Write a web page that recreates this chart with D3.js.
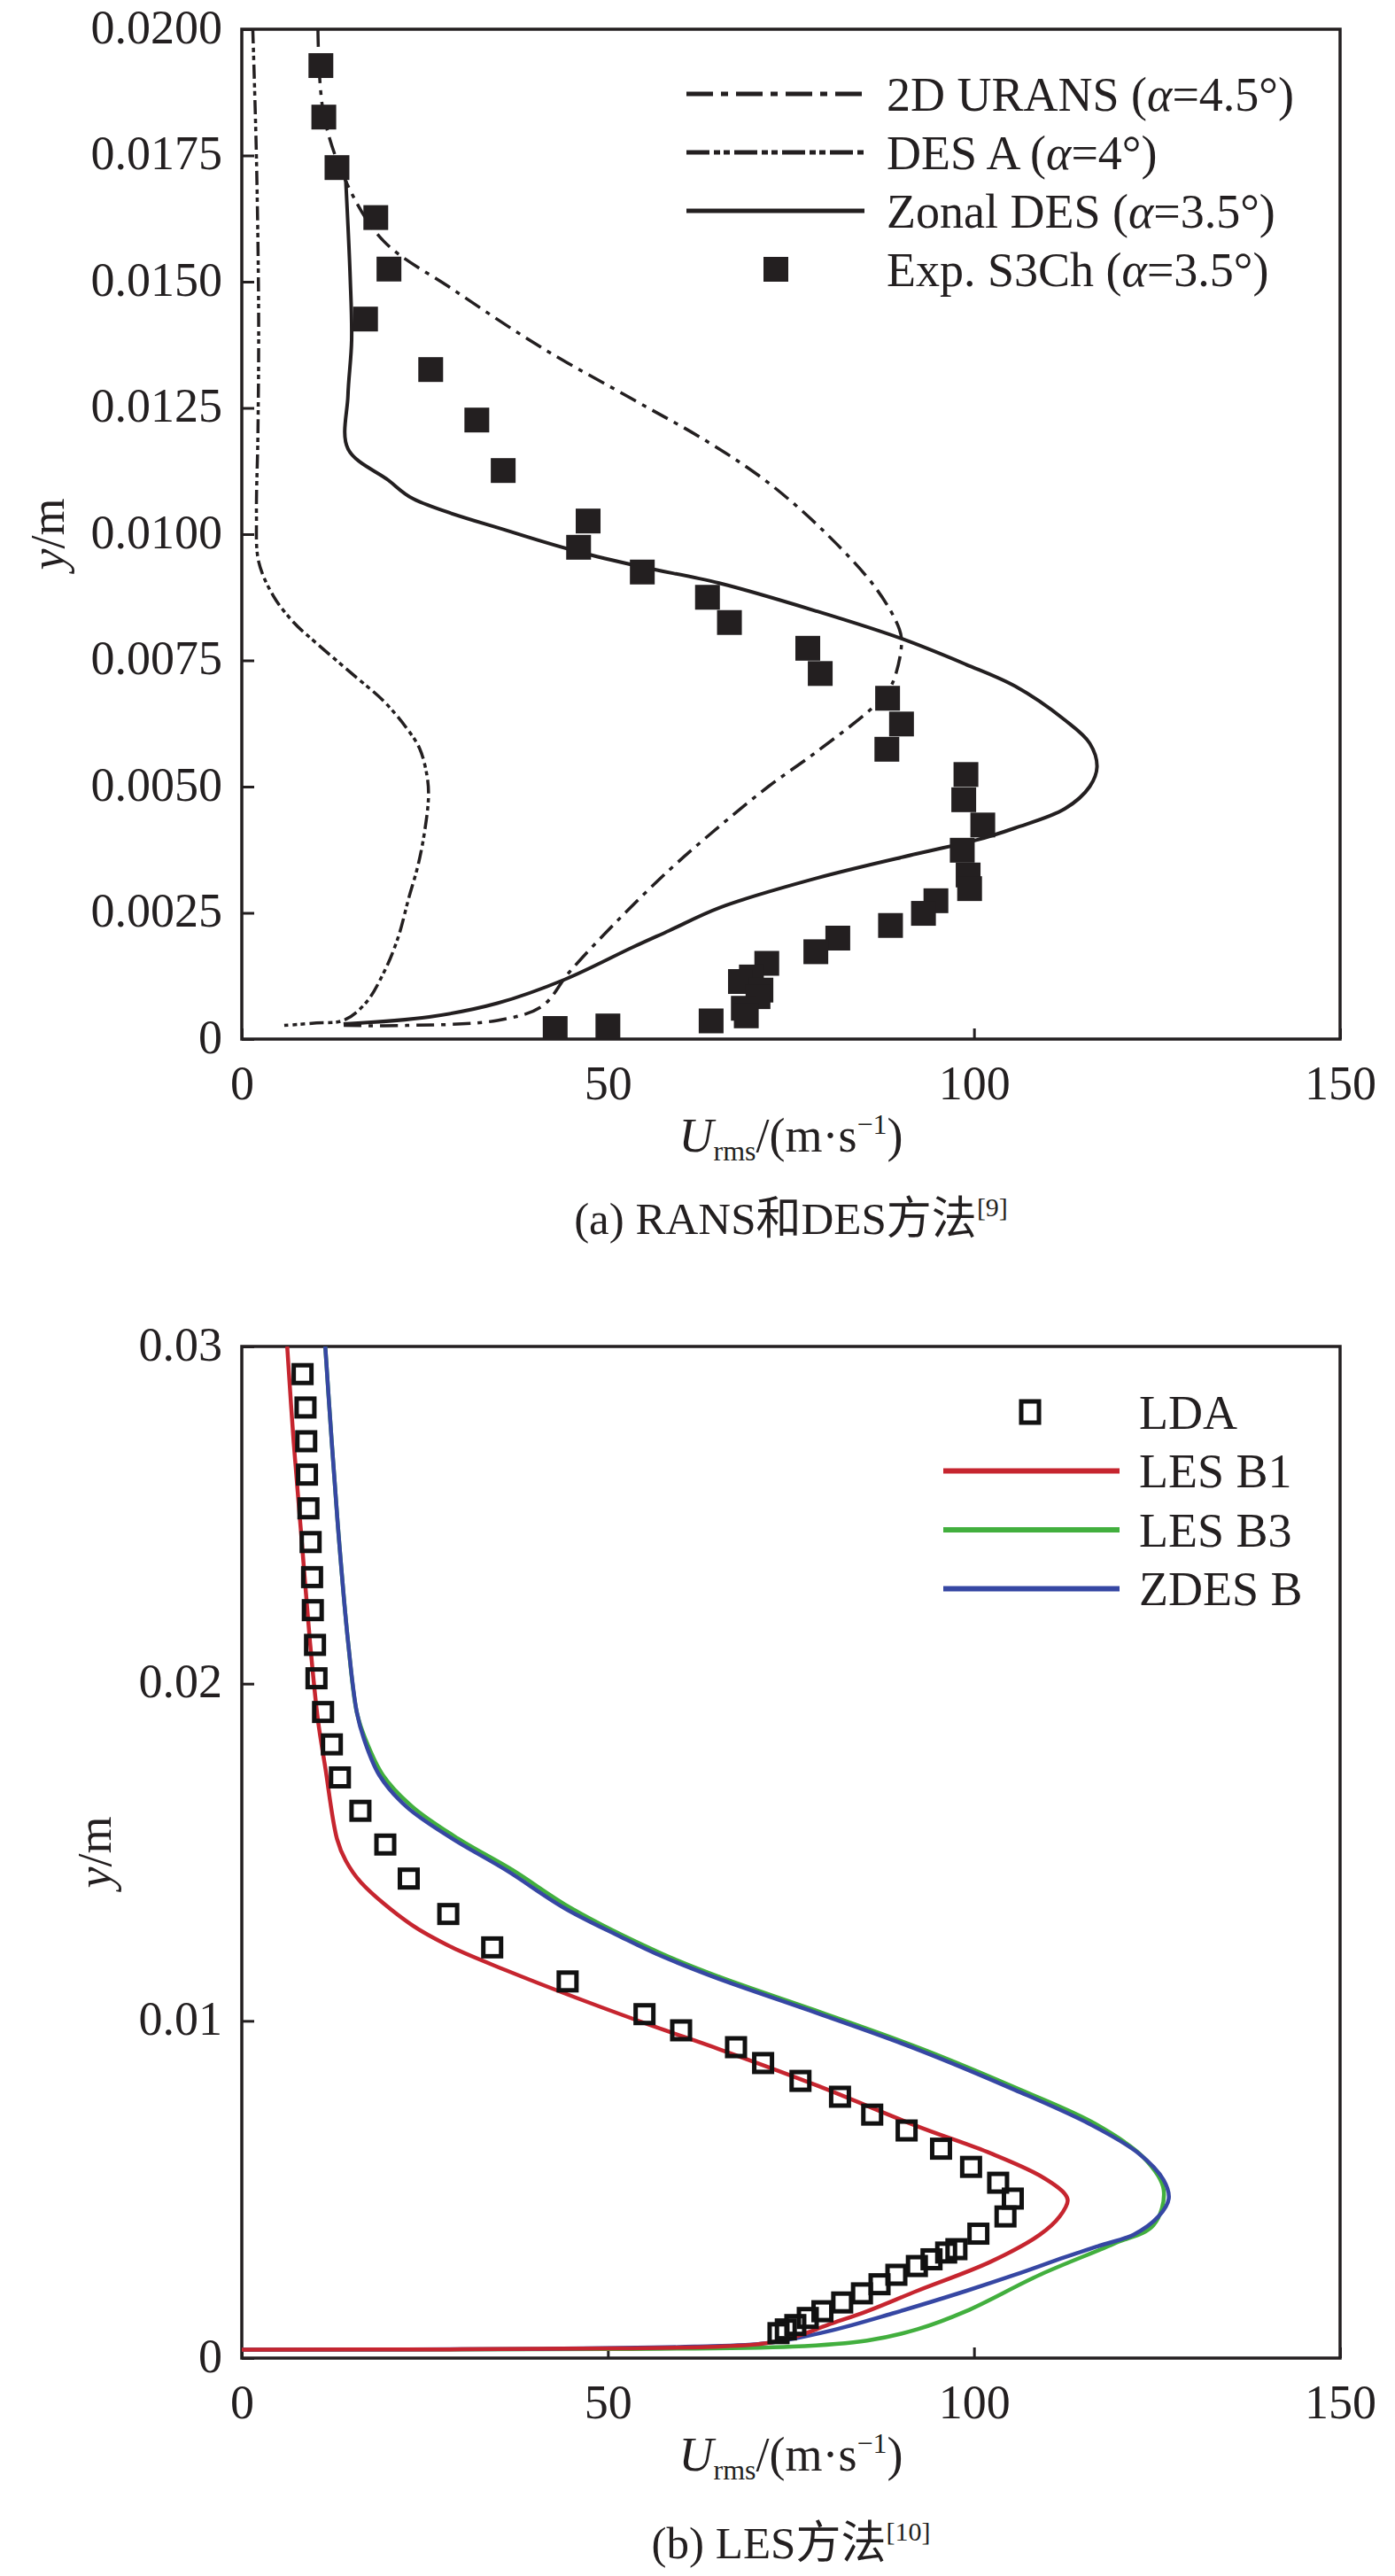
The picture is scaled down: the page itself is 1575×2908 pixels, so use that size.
<!DOCTYPE html>
<html>
<head>
<meta charset="utf-8">
<script src="https://cdn.jsdelivr.net/npm/d3@7"></script>
<style>
body { margin: 0; background: #fff; }
svg text { font-family: "Liberation Serif", "Times New Roman", "Noto Sans CJK SC", serif; fill: #231f20; }
</style>
</head>
<body>
<svg id="chart" width="1575" height="2908"></svg>
<script>
// ---- tick values / labels ----
var xTickVals = [0, 50, 100, 150];
var topYTicks = [0, 0.0025, 0.005, 0.0075, 0.01, 0.0125, 0.015, 0.0175, 0.02];
var topYLabels = ["0", "0.0025", "0.0050", "0.0075", "0.0100", "0.0125", "0.0150", "0.0175", "0.0200"];
var botYTicks = [0, 0.01, 0.02, 0.03];
var botYLabels = ["0", "0.01", "0.02", "0.03"];

// ---- (a) RANS / DES : [Urms, y] ----
var uransPts = [[10.4,0.0200],[11.2,0.0183],[14.5,0.0169],[19.4,0.0158],[28.7,0.01486],[41.0,0.01369],
  [53.4,0.01267],[63.4,0.01185],[71.9,0.01102],[79.9,0.0100],[86.7,0.00891],[89.8,0.00812],[90.1,0.00781],
  [88.8,0.00703],[86.7,0.00664],[78.6,0.0057],[71.9,0.0050],[65.2,0.00421],[58.4,0.00335],[51.0,0.0023],
  [44.7,0.00132],[41.0,0.00065],[34.9,0.00037],[22.5,0.00027],[13.9,0.00027]];
var desAPts = [[1.5,0.0200],[2.0,0.01745],[2.3,0.01432],[2.2,0.01196],[2.0,0.0104],[2.3,0.00946],[4.3,0.00878],
  [7.1,0.00825],[10.2,0.00784],[15.1,0.00723],[19.4,0.00669],[22.5,0.00616],[24.3,0.00575],[25.3,0.00521],
  [25.5,0.00481],[25.0,0.00414],[24.1,0.00346],[22.8,0.00279],[21.3,0.00199],[19.4,0.00132],[16.9,0.00071],
  [13.9,0.00037],[10.2,0.00032],[5.8,0.00027]];
var zonalPts = [[14.2,0.0170],[14.8,0.0151],[15.0,0.01384],[14.5,0.01275],[14.5,0.01169],[20.0,0.01107],
  [23.4,0.0107],[36.7,0.01005],[46.0,0.00965],[54.7,0.00935],[65.2,0.00903],[78.6,0.00847],[90.1,0.00793],
  [98.9,0.00742],[105.6,0.00699],[112.4,0.00632],[115.8,0.00586],[116.8,0.00539],[115.8,0.0050],[112.4,0.00456],
  [105.6,0.00418],[100.3,0.00394],[92.2,0.00367],[78.6,0.00319],[65.2,0.0026],[58.4,0.00215],[53.4,0.00182],
  [44.1,0.00118],[34.9,0.00071],[25.6,0.00044],[13.9,0.0003]];
var expS3Ch = [[10.8,0.01928],[11.2,0.01826],[13.0,0.01726],[18.3,0.01627],[20.1,0.01525],[16.9,0.01426],
  [25.8,0.01326],[32.1,0.01226],[35.7,0.01126],[47.3,0.01026],[46.0,0.00974],[54.7,0.00925],[63.6,0.00875],
  [66.6,0.00825],[77.3,0.00774],[79.0,0.00724],[88.2,0.00675],[90.1,0.00624],[88.1,0.00574],[98.9,0.00524],
  [98.6,0.00474],[101.2,0.00424],[98.4,0.00374],[99.2,0.00325],[99.4,0.00298],[94.8,0.00274],[93.1,0.00249],
  [88.6,0.00225],[81.4,0.0020],[78.4,0.00173],[71.7,0.0015],[69.6,0.00123],[68.1,0.00114],[70.9,0.00097],
  [70.5,0.00084],[68.5,0.00061],[68.9,0.00046],[64.1,0.00036],[42.8,0.00021],[50.0,0.00026]];

// ---- (b) LES : [Urms, y] ----
var ldaPts = [[8.3,0.02918],[8.7,0.02819],[8.8,0.02719],[8.9,0.0262],[9.1,0.0252],[9.4,0.0242],[9.6,0.02316],
  [9.7,0.02218],[10.0,0.02115],[10.2,0.02016],[11.1,0.01916],[12.3,0.0182],[13.4,0.01722],[16.2,0.01623],
  [19.6,0.01523],[22.8,0.01422],[28.2,0.01317],[34.2,0.01218],[44.5,0.01117],[55.0,0.0102],[60.0,0.00972],
  [67.5,0.00922],[71.2,0.00875],[76.3,0.00822],[81.7,0.00775],[86.1,0.00722],[90.8,0.00675],[95.5,0.00621],
  [99.6,0.00567],[103.3,0.0052],[105.3,0.00473],[104.3,0.0042],[100.6,0.00369],[97.6,0.00323],[96.2,0.00313],
  [94.2,0.00293],[92.2,0.00273],[89.4,0.00247],[87.1,0.00219],[84.7,0.00192],[82.0,0.00165],[79.3,0.00139],
  [77.3,0.00119],[75.6,0.00098],[74.3,0.00085],[73.3,0.00074]];
var lesB1Pts = [[6.2,0.0300],[7.1,0.02712],[8.2,0.0242],[9.3,0.02127],[10.4,0.01892],[11.4,0.01752],[13.0,0.0154],
  [14.2,0.01475],[16.3,0.0141],[23.1,0.01286],[28.7,0.01218],[36.1,0.0115],[47.2,0.01056],[56.5,0.00982],
  [65.2,0.00916],[78.6,0.00808],[92.2,0.00688],[102.3,0.00607],[109.0,0.00541],[112.4,0.00487],[112.8,0.00467],
  [111.7,0.0042],[109.0,0.00366],[102.3,0.00286],[92.2,0.00199],[85.4,0.00139],[80.0,0.00098],[76.0,0.00066],
  [71.9,0.00045],[65.2,0.00034],[51.7,0.00029],[30.0,0.00026],[0,0.00025]];
var lesB3Pts = [[11.4,0.0300],[12.3,0.02712],[13.3,0.0242],[14.5,0.02127],[15.7,0.01916],[16.9,0.01835],
  [19.3,0.01728],[23.3,0.01635],[29.5,0.01541],[37.0,0.01447],[45.0,0.01334],[57.3,0.0120],[65.3,0.0113],
  [79.4,0.01023],[93.0,0.00916],[106.4,0.00795],[116.6,0.00694],[123.2,0.00594],[125.9,0.0050],[124.5,0.00394],
  [119.1,0.00339],[109.0,0.00247],[98.9,0.00139],[92.2,0.00085],[85.4,0.00052],[75.2,0.00034],[50.0,0.00027],
  [0,0.00025]];
var zdesBPts = [[11.4,0.0300],[12.3,0.02712],[13.3,0.0242],[14.5,0.02127],[15.7,0.01916],[16.7,0.01835],
  [18.8,0.01728],[22.5,0.01635],[28.7,0.01541],[36.1,0.01447],[44.1,0.01334],[51.7,0.0125],[56.5,0.0120],
  [64.5,0.0113],[78.6,0.01023],[92.2,0.00916],[105.6,0.00795],[115.8,0.00694],[122.5,0.00607],[125.9,0.00528],
  [126.6,0.00473],[125.2,0.0042],[121.8,0.00366],[117.1,0.00333],[112.4,0.00299],[105.6,0.00247],[98.9,0.00199],
  [88.8,0.00132],[80.0,0.00079],[71.9,0.00045],[61.8,0.00034],[40.0,0.00027],[0,0.00025]];

var ink = "#231f20";
var svg = d3.select("#chart");

function panel(top, bottom, yMax, yTicks, yLabels, yTitleX, id) {
    var x = d3.scaleLinear().domain([0, 150]).range([273, 1513]);
    var y = d3.scaleLinear().domain([0, yMax]).range([bottom, top]);
    var g = svg.append("g");

    g.append("clipPath").attr("id", id)
        .append("rect").attr("x", 273).attr("y", top).attr("width", 1240).attr("height", bottom - top);

    var xAxis = d3.axisBottom(x).tickValues(xTickVals).tickSize(-12).tickPadding(30);
    var yAxis = d3.axisLeft(y).tickValues(yTicks).tickSize(-14).tickPadding(22)
        .tickFormat(function (d, i) { return yLabels[i]; });

    var gx = g.append("g").attr("transform", "translate(0," + bottom + ")").call(xAxis);
    var gy = g.append("g").attr("transform", "translate(273,0)").call(yAxis);
    [gx, gy].forEach(function (a) {
        a.select(".domain").remove();
        a.selectAll(".tick line").attr("stroke", ink).attr("stroke-width", 3);
        a.selectAll(".tick text").attr("font-size", 54).attr("fill", ink)
            .style("font-family", "'Liberation Serif', serif");
    });
    gy.selectAll(".tick text").attr("dy", "0.28em");

    g.append("rect").attr("x", 273).attr("y", top).attr("width", 1240).attr("height", bottom - top)
        .attr("fill", "none").attr("stroke", ink).attr("stroke-width", 3.5);

    // x title
    var t = g.append("text").attr("x", 893).attr("y", bottom + 127).attr("text-anchor", "middle")
        .attr("font-size", 54);
    t.append("tspan").attr("font-style", "italic").text("U");
    t.append("tspan").attr("font-size", 32).attr("dy", 10).text("rms");
    t.append("tspan").attr("dy", -10).text("/(m·s");
    t.append("tspan").attr("font-size", 32).attr("dy", -20).text("−1");
    t.append("tspan").attr("dy", 20).text(")");

    // y title
    var yt = g.append("text").attr("transform", "translate(" + yTitleX + "," + ((top + bottom) / 2) + ") rotate(-90)")
        .attr("text-anchor", "middle").attr("dy", "0.35em").attr("font-size", 54);
    yt.append("tspan").attr("font-style", "italic").text("y");
    yt.append("tspan").text("/m");

    return { x: x, y: y, g: g, clip: "url(#" + id + ")" };
}

// ================= (a) =================
var pa = panel(33, 1173, 0.02, topYTicks, topYLabels, 53, "clipA");
var lineA = d3.line().x(function (d) { return pa.x(d[0]); }).y(function (d) { return pa.y(d[1]); })
    .curve(d3.curveCatmullRom.alpha(0.5));

var seriesA = [
    { name: "2D URANS (", ang: "=4.5°)", pts: uransPts, dash: "20,8,5,8", legDash: "30,9,8,9", w: 3.5 },
    { name: "DES A (", ang: "=4°)", pts: desAPts, dash: "16,5,5,4,5,5", legDash: "26,5,7,4,7,5", w: 3.5 },
    { name: "Zonal DES (", ang: "=3.5°)", pts: zonalPts, dash: null, legDash: null, w: 4 }
];
var la = pa.g.append("g").attr("clip-path", pa.clip);
seriesA.forEach(function (s) {
    la.append("path").attr("d", lineA(s.pts)).attr("fill", "none").attr("stroke", ink)
        .attr("stroke-width", s.w).attr("stroke-dasharray", s.dash);
});
la.selectAll("rect.exp").data(expS3Ch).enter().append("rect").attr("class", "exp")
    .attr("x", function (d) { return pa.x(d[0]) - 14; })
    .attr("y", function (d) { return pa.y(d[1]) - 14; })
    .attr("width", 28).attr("height", 28).attr("fill", ink);

// legend (a)
var legA = pa.g.append("g");
seriesA.concat([{ name: "Exp. S3Ch (", ang: "=3.5°)", marker: true }]).forEach(function (s, i) {
    var ry = 106 + i * 66;
    if (s.marker) {
        legA.append("rect").attr("x", 876 - 14).attr("y", ry - 14).attr("width", 28).attr("height", 28).attr("fill", ink);
    } else {
        legA.append("line").attr("x1", 775).attr("x2", 976).attr("y1", ry).attr("y2", ry)
            .attr("stroke", ink).attr("stroke-width", 5).attr("stroke-dasharray", s.legDash);
    }
    var tx = legA.append("text").attr("x", 1001).attr("y", ry).attr("dy", "0.35em").attr("font-size", 54);
    tx.append("tspan").text(s.name);
    tx.append("tspan").attr("font-style", "italic").text("α");
    tx.append("tspan").text(s.ang);
});

// caption (a)
var ca = svg.append("text").attr("x", 893).attr("y", 1393).attr("text-anchor", "middle").attr("font-size", 51);
ca.append("tspan").text("(a) RANS和DES方法");
ca.append("tspan").attr("font-size", 30).attr("dy", -20).text("[9]");

// ================= (b) =================
var pb = panel(1520, 2662, 0.03, botYTicks, botYLabels, 106, "clipB");
var lineB = d3.line().x(function (d) { return pb.x(d[0]); }).y(function (d) { return pb.y(d[1]); })
    .curve(d3.curveCatmullRom.alpha(0.5));

var seriesB = [
    { name: "LES B3", pts: lesB3Pts, color: "#42af3e" },
    { name: "ZDES B", pts: zdesBPts, color: "#3647a3" },
    { name: "LES B1", pts: lesB1Pts, color: "#c6252f" }
];
var lb = pb.g.append("g").attr("clip-path", pb.clip);
seriesB.forEach(function (s) {
    lb.append("path").attr("d", lineB(s.pts)).attr("fill", "none").attr("stroke", s.color).attr("stroke-width", 4.5);
});
lb.selectAll("rect.lda").data(ldaPts).enter().append("rect").attr("class", "lda")
    .attr("x", function (d) { return pb.x(d[0]) - 10; })
    .attr("y", function (d) { return pb.y(d[1]) - 10; })
    .attr("width", 20).attr("height", 20).attr("fill", "none").attr("stroke", "#111").attr("stroke-width", 5);

// legend (b)
var legB = pb.g.append("g");
var legBItems = [{ name: "LDA" }, seriesB[2], seriesB[0], seriesB[1]];
legBItems.forEach(function (s, i) {
    var ry = 1594 + i * 66.5;
    if (!s.color) {
        legB.append("rect").attr("x", 1163 - 10).attr("y", ry - 12).attr("width", 20).attr("height", 24)
            .attr("fill", "none").attr("stroke", "#111").attr("stroke-width", 5);
    } else {
        legB.append("line").attr("x1", 1065).attr("x2", 1264).attr("y1", ry).attr("y2", ry)
            .attr("stroke", s.color).attr("stroke-width", 6);
    }
    legB.append("text").attr("x", 1286).attr("y", ry).attr("dy", "0.35em").attr("font-size", 54).text(s.name);
});

// caption (b)
var cb = svg.append("text").attr("x", 893).attr("y", 2888).attr("text-anchor", "middle").attr("font-size", 51);
cb.append("tspan").text("(b) LES方法");
cb.append("tspan").attr("font-size", 30).attr("dy", -20).text("[10]");
</script>
</body>
</html>
